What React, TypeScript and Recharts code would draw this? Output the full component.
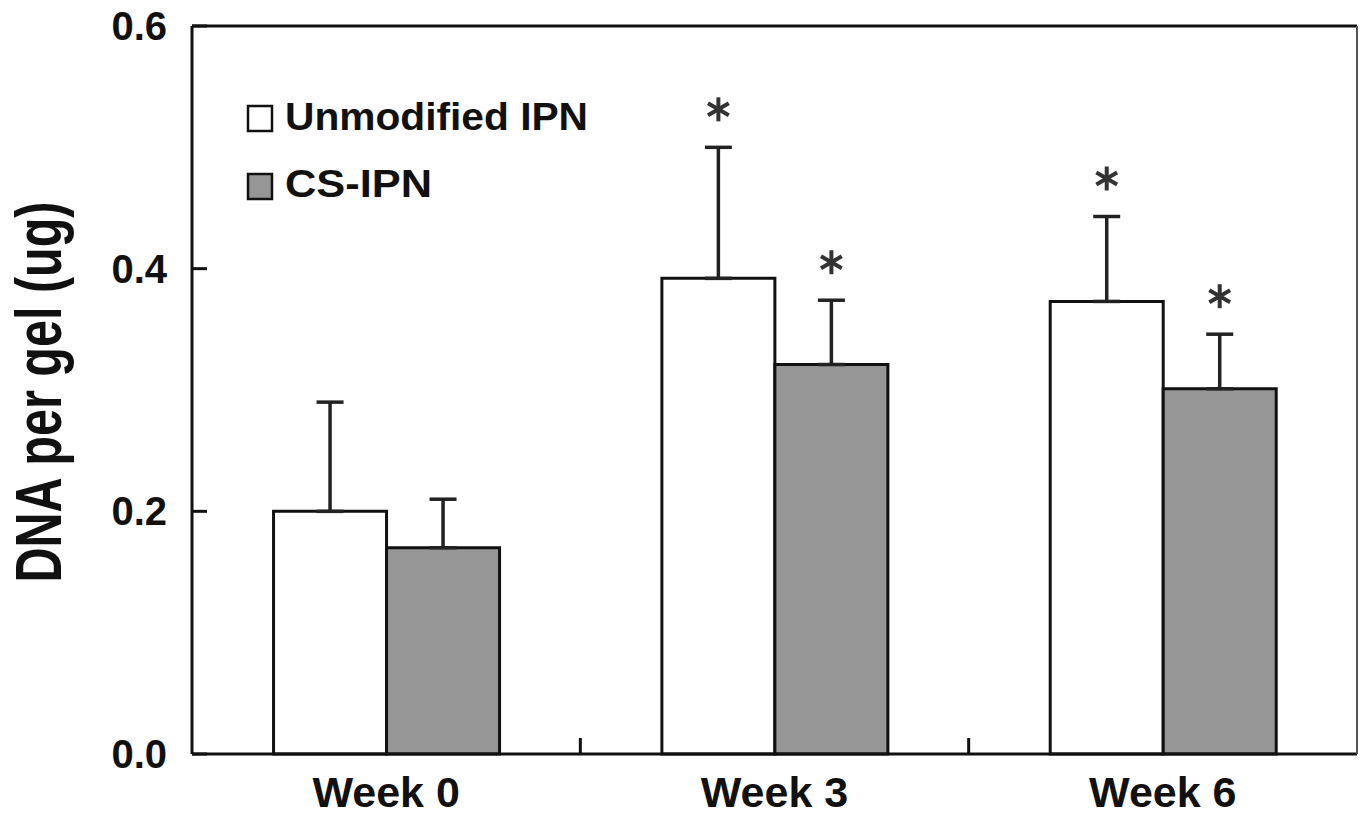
import React from 'react';
import { BarChart, Bar, XAxis, YAxis, ErrorBar, LabelList } from 'recharts';

const categories = ['Week 0', 'Week 3', 'Week 6'];
const unmodified = [0.2, 0.392, 0.373];
const unmodifiedErr = [0.09, 0.108, 0.07];
const csIpn = [0.17, 0.321, 0.301];
const csIpnErr = [0.04, 0.053, 0.045];
const unmodifiedSig = [false, true, true];
const csIpnSig = [false, true, true];
const yTicks = [0, 0.2, 0.4, 0.6];

const seriesNames = ['Unmodified IPN', 'CS-IPN'];
const seriesFills = ['#ffffff', '#969696'];

const data = categories.map((week, i) => ({
  week,
  unmod: unmodified[i],
  unmodErr: unmodifiedErr[i],
  unmodRange: [0, unmodifiedErr[i]],
  cs: csIpn[i],
  csErr: csIpnErr[i],
  csRange: [0, csIpnErr[i]],
}));

const FONT = '"Liberation Sans", Arial, Helvetica, sans-serif';
const Y_TICK_MARGIN = 25;
const INNER_TICK = 15;
const X_TICK_MARGIN = 22;

const makeStar = (valueKey: 'unmod' | 'cs', sig: boolean[]) => (p: any) => {
  const idx = p.index;
  if (!sig[idx]) return null;
  const v = data[idx][valueKey];
  const h = Number(p.height);
  const err = Number(p.value);
  const pxPerUnit = h / v;
  const errTop = Number(p.y) - err * pxPerUnit;
  const cx = Number(p.x) + Number(p.width) / 2;
  const cy = errTop - 38;
  const r = 12;
  const lines = [90, 30, -30].map((deg) => {
    const a = (deg * Math.PI) / 180;
    return (
      <line
        key={deg}
        x1={cx - r * Math.cos(a)}
        y1={cy - r * Math.sin(a)}
        x2={cx + r * Math.cos(a)}
        y2={cy + r * Math.sin(a)}
        stroke="#333"
        strokeWidth={4}
      />
    );
  });
  return <g>{lines}</g>;
};

const YTick = (p: any) => {
  const { x, y, payload } = p;
  const axisX = x + Y_TICK_MARGIN;
  return (
    <g>
      <line x1={axisX} y1={y} x2={axisX + INNER_TICK} y2={y} stroke="#111" strokeWidth={3} />
      <text
        x={x}
        y={y}
        textAnchor="end"
        dominantBaseline="central"
        fontFamily={FONT}
        fontWeight="bold"
        fontSize={40}
        fill="#111"
      >
        {Number(payload.value).toFixed(1)}
      </text>
    </g>
  );
};

const XTick = (p: any) => {
  const { x, y, payload, index, visibleTicksCount, width } = p;
  const count = visibleTicksCount || categories.length;
  const half =
    payload && typeof payload.offset === 'number' && payload.offset > 0
      ? payload.offset
      : Number(width) / count / 2;
  const axisY = y - X_TICK_MARGIN;
  return (
    <g>
      {index < count - 1 && (
        <line
          x1={x + half}
          y1={axisY}
          x2={x + half}
          y2={axisY - 16}
          stroke="#111"
          strokeWidth={3}
        />
      )}
      <text
        x={x}
        y={y + 31}
        textAnchor="middle"
        fontFamily={FONT}
        fontWeight="bold"
        fontSize={43}
        fill="#111"
      >
        {payload.value}
      </text>
    </g>
  );
};

const YLabel = (props: any) => {
  const vb = props.viewBox || { x: 0, y: 26, width: 192, height: 728 };
  const cx = vb.x + 39;
  const cy = vb.y + vb.height / 2 + 2;
  return (
    <text
      x={cx}
      y={cy}
      transform={`rotate(-90, ${cx}, ${cy})`}
      textAnchor="middle"
      dominantBaseline="central"
      fontFamily={FONT}
      fontWeight="bold"
      fontSize={64}
      fill="#111"
      textLength={381}
      lengthAdjust="spacingAndGlyphs"
    >
      DNA per gel (ug)
    </text>
  );
};

const LegendOverlay = () => (
  <svg
    width={420}
    height={120}
    style={{ position: 'absolute', left: 240, top: 95, overflow: 'visible' }}
  >
    {seriesNames.map((name, i) => (
      <g key={name}>
        <rect
          x={8}
          y={11 + i * 68}
          width={24}
          height={25}
          fill={seriesFills[i]}
          stroke="#111"
          strokeWidth={2.5}
        />
        <text
          x={45}
          y={35 + i * 67}
          fontFamily={FONT}
          fontWeight="bold"
          fontSize={38}
          fill="#111"
          textLength={i === 0 ? 303 : 147}
          lengthAdjust="spacingAndGlyphs"
        >
          {name}
        </text>
      </g>
    ))}
  </svg>
);

export default function App() {
  return (
    <div style={{ position: 'absolute', left: 0, top: 0, width: 1363, height: 818, background: '#fff' }}>
      <BarChart
        width={1363}
        height={818}
        data={data}
        margin={{ top: 25, right: 5, bottom: 0, left: 0 }}
        barGap={0}
        barCategoryGap="21%"
      >
        <XAxis
          dataKey="week"
          height={64}
          tickLine={false}
          tickSize={0}
          tickMargin={X_TICK_MARGIN}
          axisLine={{ stroke: '#111', strokeWidth: 3 }}
          tick={<XTick />}
          interval={0}
        />
        <XAxis
          xAxisId="top"
          dataKey="week"
          orientation="top"
          height={1}
          tick={false}
          tickLine={false}
          axisLine={{ stroke: '#111', strokeWidth: 3 }}
        />
        <YAxis
          width={192}
          domain={[0, 0.6]}
          ticks={yTicks}
          tickSize={0}
          tickMargin={Y_TICK_MARGIN}
          tickLine={false}
          axisLine={{ stroke: '#111', strokeWidth: 3 }}
          tick={<YTick />}
          interval={0}
          label={<YLabel />}
        />
        <YAxis
          yAxisId="right"
          orientation="right"
          width={1}
          tick={false}
          tickLine={false}
          axisLine={{ stroke: '#555', strokeWidth: 2 }}
        />
        <Bar dataKey="unmod" fill={seriesFills[0]} stroke="#111" strokeWidth={3} isAnimationActive={false}>
          <ErrorBar dataKey="unmodRange" width={13.5} strokeWidth={3.5} stroke="#222" direction="y" />
          <LabelList dataKey="unmodErr" content={makeStar('unmod', unmodifiedSig)} />
        </Bar>
        <Bar dataKey="cs" fill={seriesFills[1]} stroke="#111" strokeWidth={3} isAnimationActive={false}>
          <ErrorBar dataKey="csRange" width={13.5} strokeWidth={3.5} stroke="#222" direction="y" />
          <LabelList dataKey="csErr" content={makeStar('cs', csIpnSig)} />
        </Bar>
      </BarChart>
      <LegendOverlay />
    </div>
  );
}
